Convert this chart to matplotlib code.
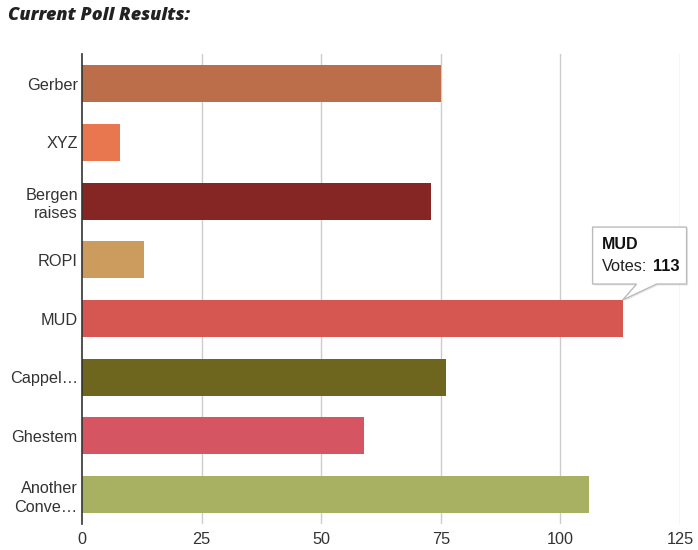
import matplotlib
matplotlib.use("Agg")
import matplotlib.pyplot as plt
import matplotlib.transforms as mtransforms
from matplotlib.patches import Polygon

categories = ["Gerber", "XYZ", "Bergen\nraises", "ROPI", "MUD", "Cappel…", "Ghestem", "Another\nConve…"]
votes = [75, 8, 73, 13, 113, 76, 59, 106]
colors = ["#BC6E4A", "#E8774F", "#862624", "#CC9C5E", "#D65751", "#6E651F", "#D65562", "#A8B062"]
xticks = [0, 25, 50, 75, 100, 125]
title = "Current Poll Results:"
tooltip_name = "MUD"
tooltip_value = 113

fig = plt.figure(figsize=(6.98, 5.50), dpi=100)
ax = fig.add_axes([82/698, 1-524/550, (680-82)/698, (524-54.4)/550])

ypos = list(range(len(categories)))
bar_h = 0.63
ax.barh(ypos, votes, height=bar_h, color=colors, zorder=3)
ax.set_ylim(len(categories)-0.5, -0.5)
ax.set_xlim(0, 125)
ax.set_xticks(xticks)
ax.set_xticklabels([str(t) for t in xticks])
ax.set_yticks(ypos)
ax.set_yticklabels(categories, linespacing=1.3)
for lab in ax.get_yticklabels() + ax.get_xticklabels():
    lab.set_family(["Liberation Sans", "DejaVu Sans"])
    lab.set_fontsize(11.7)
    lab.set_color("#333333")
ax.tick_params(axis="both", length=0)
ax.tick_params(axis="y", pad=3)
ax.tick_params(axis="x", pad=6)
ax.grid(axis="x", color="#cccccc", linewidth=1, zorder=0)
ax.xaxis.get_gridlines()[0].set_visible(False)
for s in ["top", "right", "bottom"]:
    ax.spines[s].set_visible(False)
ax.spines["left"].set_color("#333333")
ax.spines["left"].set_linewidth(1.2)
ax.spines["left"].set_zorder(4)

fig.text(8/698, 1-16/550, title, fontsize=13, fontweight="heavy", fontstyle="italic",
         family=["Open Sans", "DejaVu Sans"], color="#222222", va="center", ha="left")

# tooltip
idx = categories.index(tooltip_name)
anchor = mtransforms.ScaledTranslation(tooltip_value, idx - bar_h/2, ax.transData)
tr = mtransforms.Affine2D().scale(fig.dpi/100) + anchor
shape = [(-30, 16), (14, 16), (0, 0), (34, 16), (64, 16), (64, 73), (-30, 73)]
shadow = Polygon(shape, closed=True, transform=mtransforms.Affine2D().translate(1.5, -1.5) + tr,
                 facecolor="#000000", alpha=0.08, edgecolor="none", zorder=9, clip_on=False)
fig.add_artist(shadow)
tip = Polygon(shape, closed=True, transform=tr, facecolor="white", edgecolor="#bbbbbb",
              linewidth=1, zorder=10, clip_on=False)
fig.add_artist(tip)
fig.text(-21, 56, tooltip_name, transform=tr, fontsize=11.5, fontweight="bold",
         family=["Liberation Sans", "DejaVu Sans"], va="center", ha="left", zorder=11, color="#111111")
fig.text(-21, 34, "Votes:", transform=tr, fontsize=11.8,
         family=["Liberation Sans", "DejaVu Sans"], va="center", ha="left", zorder=11, color="#222222")
fig.text(30, 34, str(tooltip_value), transform=tr, fontsize=11.8, fontweight="bold",
         family=["Liberation Sans", "DejaVu Sans"], va="center", ha="left", zorder=11, color="#111111")

fig.savefig("out.png", dpi=100)
